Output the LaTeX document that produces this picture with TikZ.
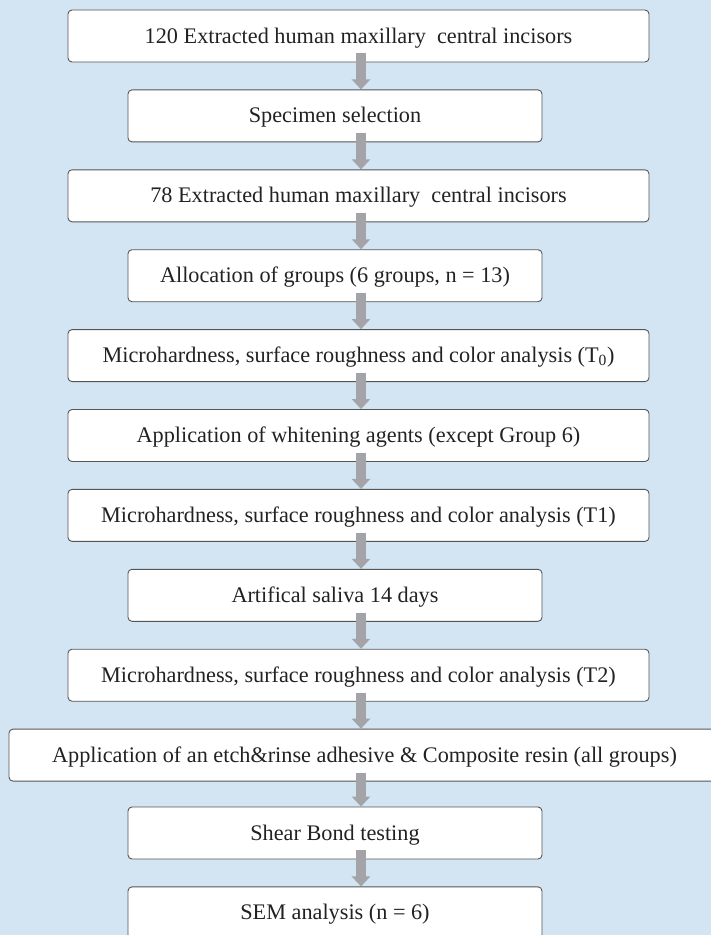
\documentclass[tikz,border=0pt]{standalone}
\usepackage{fontspec}
\setmainfont{Liberation Serif}
\usepackage{tikz}
\usetikzlibrary{arrows.meta, positioning}
\definecolor{bgblue}{RGB}{211,228,243}
\definecolor{arrowgray}{RGB}{163,163,168}
\definecolor{boxline}{RGB}{85,85,85}
\definecolor{textgray}{RGB}{34,34,34}

\begin{document}
\begin{tikzpicture}[
  node distance=27pt,
  box/.style={rectangle, draw=boxline, line width=0.9pt, fill=white, rounded corners=4pt, minimum height=52pt, text height=14pt, text depth=0pt, align=center, text=textgray},
  widebox/.style={box, minimum width=581pt},
  narrowbox/.style={box, minimum width=414pt},
  flowarrow/.style={-{Triangle[width=18pt, length=10pt]}, line width=10pt, arrowgray},
  every node/.style={font=\fontsize{22.25}{26}\selectfont}
]

% Background
\path[use as bounding box, fill=bgblue] (0,0) rectangle (711pt,-935pt);

% Steps of the study
\node[widebox] (S1) at (358.5pt,-36pt) {120 Extracted human maxillary~ central incisors};
\node[narrowbox, below=of S1, xshift=-23.5pt] (S2) {Specimen selection};
\node[widebox, below=of S2, xshift=23.5pt] (S3) {78 Extracted human maxillary~ central incisors};
\node[narrowbox, below=of S3, xshift=-23.5pt] (S4) {Allocation of groups (6 groups, n = 13)};
\node[widebox, below=of S4, xshift=23.5pt] (S5) {Microhardness, surface roughness and color analysis (T\textsubscript{0})};
\node[widebox, below=of S5] (S6) {Application of whitening agents (except Group 6)};
\node[widebox, below=of S6] (S7) {Microhardness, surface roughness and color analysis (T1)};
\node[narrowbox, below=of S7, xshift=-23.5pt] (S8) {Artifical saliva 14 days};
\node[widebox, below=of S8, xshift=23.5pt] (S9) {Microhardness, surface roughness and color analysis (T2)};
\node[box, minimum width=711pt, below=of S9, xshift=6pt] (S10) {Application of an etch\&rinse adhesive \& Composite resin (all groups)};
\node[narrowbox, below=25pt of S10, xshift=-29.5pt] (S11) {Shear Bond testing};
\node[narrowbox, below=of S11] (S12) {SEM analysis (n = 6)};

% Arrows between steps
\coordinate (ax) at (361pt,0);
\foreach \x/\y in {S1/S2, S2/S3, S3/S4, S4/S5, S5/S6, S6/S7, S7/S8, S8/S9, S9/S10, S10/S11, S11/S12} {
  \draw[flowarrow] ([yshift=9pt]\x.south -| ax) -- (\y.north -| ax);
}

\end{tikzpicture}
\end{document}
